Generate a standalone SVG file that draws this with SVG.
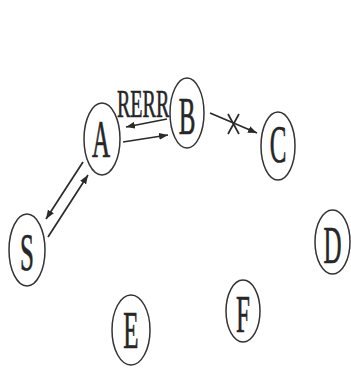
<svg xmlns="http://www.w3.org/2000/svg" width="351" height="373" viewBox="0 0 351 373">
<style>
.n ellipse{fill:none;stroke:#333333;stroke-width:1.5}
.n text,.lbl{font-family:"Liberation Serif","Times New Roman",serif;fill:#262626;stroke:#262626;stroke-width:0.35;text-anchor:middle}
.n text{font-size:25px}
.lbl{text-anchor:start;font-size:20px}
.c line,.c path{stroke:#2a2a2a;stroke-width:1.7;fill:none}
</style>
<defs>
<marker id="ah" markerUnits="userSpaceOnUse" markerWidth="10" markerHeight="8" refX="9" refY="3.5" orient="auto">
<path d="M0,0 L9,3.5 L0,7 z" fill="#2a2a2a"/>
</marker>
</defs>
<rect width="351" height="373" fill="#ffffff"/>
<g class="c" id="connectors">
<line x1="167" y1="119" x2="126" y2="127" marker-end="url(#ah)"/>
<line x1="123" y1="142" x2="168" y2="135" marker-end="url(#ah)"/>
<line x1="210" y1="113" x2="257" y2="133" marker-end="url(#ah)"/>
<path d="M228,114 L239,134 M239,114 L228,134"/>
<line x1="83" y1="162" x2="46" y2="219" marker-end="url(#ah)"/>
<line x1="48" y1="237" x2="88" y2="175" marker-end="url(#ah)"/>
</g>
<text class="lbl" transform="translate(117,117) scale(1,2)">RERR</text>
<g class="n" id="node-A"><ellipse cx="102" cy="139" rx="18" ry="36"/><text transform="translate(101,157) scale(1,2.1)">A</text></g>
<g class="n" id="node-B"><ellipse cx="187" cy="113" rx="17" ry="35"/><text transform="translate(187,134) scale(1,2.1)">B</text></g>
<g class="n" id="node-C"><ellipse cx="278" cy="146" rx="17" ry="34"/><text transform="translate(278,162) scale(1,2.1)">C</text></g>
<g class="n" id="node-S"><ellipse cx="27" cy="250" rx="18" ry="36"/><text transform="translate(27,270) scale(1,2.1)">S</text></g>
<g class="n" id="node-D"><ellipse cx="332.5" cy="242" rx="17.5" ry="32"/><text transform="translate(332.5,263) scale(1,2.1)">D</text></g>
<g class="n" id="node-E"><ellipse cx="131" cy="330" rx="19" ry="35"/><text transform="translate(131,348) scale(1,2.1)">E</text></g>
<g class="n" id="node-F"><ellipse cx="243" cy="311" rx="17" ry="31"/><text transform="translate(243,332) scale(1,2.1)">F</text></g>
</svg>
